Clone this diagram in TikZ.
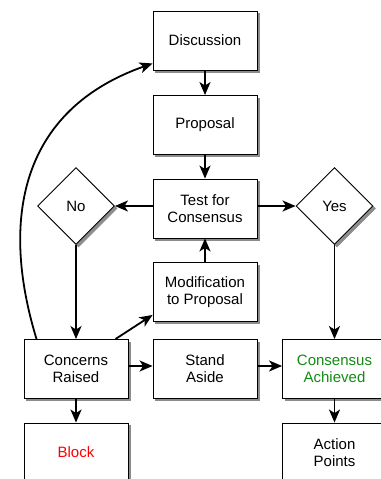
\documentclass[tikz,border=0pt]{standalone}
\usepackage{fontspec}
\setmainfont{Liberation Sans}
\usetikzlibrary{arrows.meta,shapes.geometric,backgrounds}
\definecolor{okgreen}{RGB}{20,140,20}
\begin{document}
\begin{tikzpicture}[x=1pt,y=-1pt]
\tikzstyle{every node}=[font=\fontsize{15}{17}\selectfont, align=center, inner sep=1pt]
\tikzstyle{box}=[draw, fill=white, line width=0.9pt, minimum width=104pt, minimum height=59pt]
\tikzstyle{choice}=[draw, fill=white, diamond, aspect=1, line width=0.9pt, minimum size=77pt, inner sep=0pt]
\tikzstyle{arr}=[-{Stealth[length=13pt,width=11pt,inset=3.5pt]}, line width=1.8pt]
\tikzstyle{shadow}=[fill=black!45, shift={(2.5pt,-2.5pt)}]
\useasboundingbox (0,0) rectangle (380,479);
\node (disc) at (205,40.5) [box] {Discussion};
\node (prop) at (205,125) [box] {Proposal};
\node (test) at (205,208.5) [box] {Test for\\Consensus};
\node (no) at (76,206) [choice] {No};
\node (yes) at (334.5,206) [choice] {Yes};
\node (modif) at (205,292) [box] {Modification\\to Proposal};
\node (concern) at (76,369) [box] {Concerns\\Raised};
\node (stand) at (205,369) [box] {Stand\\Aside};
\node (achieved) at (334.5,369) [box, text=okgreen] {Consensus\\Achieved};
\node (block) at (76,452.5) [box, text=red] {Block};
\node (action) at (334.5,452.5) [box] {Action\\Points};
% drop shadows
\begin{scope}[on background layer]
\foreach \n in {disc,prop,test,modif,concern,stand,achieved,block,action}
  \fill [black!45] ([shift={(2.5pt,-2.5pt)}]\n.south west) rectangle ([shift={(2.5pt,-2.5pt)}]\n.north east);
\foreach \n in {no,yes}
  \fill [black!45] ([shift={(2.5pt,-2.5pt)}]\n.north) -- ([shift={(2.5pt,-2.5pt)}]\n.east)
    -- ([shift={(2.5pt,-2.5pt)}]\n.south) -- ([shift={(2.5pt,-2.5pt)}]\n.west) -- cycle;
\end{scope}
\draw [arr] (disc) -- (prop);
\draw [arr] (prop) -- (test);
\draw [arr] (test.west |- no.east) -- (no.east);
\draw [arr] (test.east |- yes.west) -- (yes.west);
\draw [arr] (modif) -- (test);
\draw [arr] (no) -- (concern);
\draw [arr] (yes) -- (achieved);
\draw [arr] (concern.east |- 0,366) -- (stand.west |- 0,366);
\draw [arr] (stand.east |- 0,366) -- (achieved.west |- 0,366);
\draw [arr] (concern) -- (block);
\draw [arr] (achieved) -- (action);
\draw [arr] ([xshift=-13pt]concern.north east) -- ([yshift=7pt]modif.south west);
\draw [arr] ([xshift=13pt]concern.north west) .. controls (0,220) and (20,110) .. ([yshift=7pt]disc.south west);
\end{tikzpicture}
\end{document}
